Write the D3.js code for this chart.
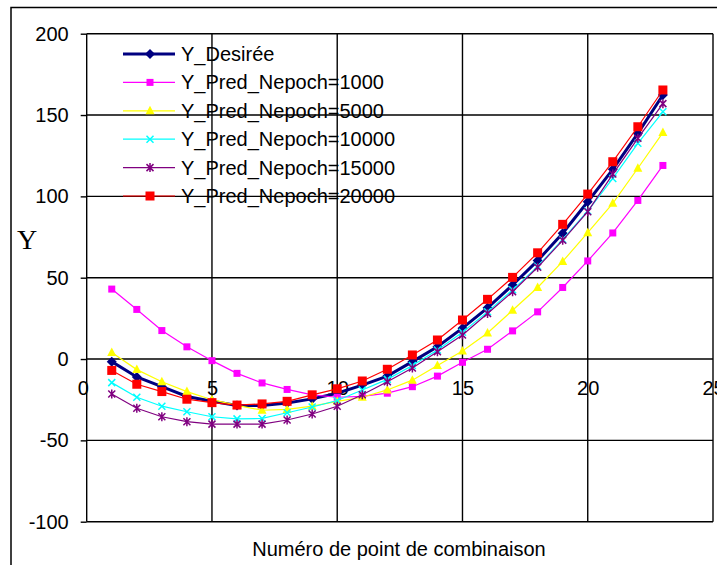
<!DOCTYPE html>
<html><head><meta charset="utf-8">
<script src="https://cdn.jsdelivr.net/npm/d3@7/dist/d3.min.js"></script>
<style>
body{margin:0;background:#fff;}
svg{display:block;}
text{font-family:"Liberation Sans",Arial,sans-serif;fill:#000;}
</style>
</head><body>
<svg id="chart" width="717" height="565"></svg>
<script>
// ---- data ----
const xPoints = [1,2,3,4,5,6,7,8,9,10,11,12,13,14,15,16,17,18,19,20,21,22,23];
const yDesiree   = [-1.6,-11,-17,-23,-26,-28.5,-28.5,-27,-24.5,-21,-16,-10.5,-1.6,7.6,19,31.5,45.5,60.5,77.3,96.7,116.6,138.7,162.3];
const yPred1000  = [43,30.5,17.5,7.5,-1,-8.8,-14.7,-18.7,-22,-23.5,-23,-21,-17,-10.5,-2,6,17.3,29,44,60.3,77.5,97.5,119];
const yPred5000  = [4,-6.5,-14,-20,-25,-28.5,-31.5,-31,-29,-26,-23.5,-19,-13,-4,5,16,30,44,60,77.7,95.7,117.3,139.2];
const yPred10000 = [-14.5,-23.5,-29,-32.4,-35.5,-36.8,-36.5,-33,-29.5,-25.5,-19,-12.5,-4,5.5,16.5,29,42.5,57,73.5,91,111,132.6,152];
const yPred15000 = [-21.5,-30.3,-35.5,-38.5,-40,-40,-40,-37.5,-33.8,-29,-22,-14,-5.5,4.5,14.8,28,41.4,56.4,73,90.6,113.7,135.7,157];
const yPred20000 = [-7,-15.5,-20,-24.7,-26.8,-28.3,-27.6,-26,-22,-18.3,-13.5,-6.3,2.5,11.7,24,36.7,50.2,65.3,82.8,101.4,121.3,142.8,165.4];
const seriesNames = ["Y_Desirée","Y_Pred_Nepoch=1000","Y_Pred_Nepoch=5000","Y_Pred_Nepoch=10000","Y_Pred_Nepoch=15000","Y_Pred_Nepoch=20000"];
const seriesColors = ["#000080","#FF00FF","#FFFF00","#00FFFF","#800080","#FF0000"];
const seriesMarkers = ["diamond","square","triangle","cross","star","bigsquare"];
const xTicks = [0,5,10,15,20,25];
const yTicks = [-100,-50,0,50,100,150,200];
const xTitle = "Numéro de point de combinaison";
const yTitle = "Y";

const seriesValues = [yDesiree,yPred1000,yPred5000,yPred10000,yPred15000,yPred20000];
const series = seriesNames.map((n,i)=>({name:n,color:seriesColors[i],marker:seriesMarkers[i],
  values:xPoints.map((x,j)=>({x:x,y:seriesValues[i][j]}))}));

// ---- layout ----
const svg = d3.select("#chart");
const x = d3.scaleLinear().domain([0,25]).range([86.7,713]);
const y = d3.scaleLinear().domain([-100,200]).range([521.7,33.7]);
const fmt = d => String(d);

// outer frame
svg.append("rect").attr("x",11).attr("y",7.5).attr("width",800).attr("height",700)
  .attr("fill","#fff").attr("stroke","#000").attr("stroke-width",1.5);

// gridlines
const grid = svg.append("g").attr("stroke","#000").attr("stroke-width",1.4);
grid.selectAll("line.h").data(yTicks).join("line").attr("class","h")
  .attr("x1",x(0)).attr("x2",x(25)).attr("y1",d=>y(d)).attr("y2",d=>y(d));
grid.selectAll("line.v").data(xTicks).join("line").attr("class","v")
  .attr("y1",y(-100)).attr("y2",y(200)).attr("x1",d=>x(d)).attr("x2",d=>x(d));

// y axis
const yAxis = svg.append("g").attr("transform",`translate(${x(0)},0)`)
  .call(d3.axisLeft(y).tickValues(yTicks).tickSize(6).tickPadding(12).tickFormat(fmt));
yAxis.select(".domain").remove();
yAxis.selectAll(".tick line").attr("stroke","#000").attr("stroke-width",1.4);
yAxis.selectAll("text").attr("font-size",20).attr("font-family","Liberation Sans, Arial, sans-serif");

// x axis at y=0
const xAxis = svg.append("g").attr("transform",`translate(0,${y(0)})`)
  .call(d3.axisBottom(x).tickValues(xTicks).tickSize(0).tickPadding(22).tickFormat(fmt));
xAxis.select(".domain").remove();
xAxis.selectAll("text").attr("font-size",20).attr("font-family","Liberation Sans, Arial, sans-serif")
  .attr("dx", (d,i)=> i===0 ? -4 : 0);

// titles
svg.append("text").attr("x",399).attr("y",556).attr("text-anchor","middle")
  .attr("font-size",20).text(xTitle);
svg.append("text").attr("x",27).attr("y",249).attr("text-anchor","middle")
  .style("font-family","'Liberation Serif','Times New Roman',serif").attr("font-size",28).text(yTitle);

// marker drawing
function drawMarker(g, type, color, cx, cy){
  if(type==="diamond"){
    g.append("path").attr("d",`M${cx},${cy-5}L${cx+5},${cy}L${cx},${cy+5}L${cx-5},${cy}Z`).attr("fill",color);
  } else if(type==="square"){
    g.append("rect").attr("x",cx-3.5).attr("y",cy-3.5).attr("width",7).attr("height",7).attr("fill",color);
  } else if(type==="bigsquare"){
    g.append("rect").attr("x",cx-4.5).attr("y",cy-4.5).attr("width",9).attr("height",9).attr("fill",color);
  } else if(type==="triangle"){
    g.append("path").attr("d",`M${cx},${cy-5}L${cx+4.5},${cy+3.5}L${cx-4.5},${cy+3.5}Z`).attr("fill",color);
  } else if(type==="cross"){
    g.append("path").attr("d",`M${cx-3.5},${cy-3.5}L${cx+3.5},${cy+3.5}M${cx-3.5},${cy+3.5}L${cx+3.5},${cy-3.5}`)
      .attr("stroke",color).attr("stroke-width",1.5).attr("fill","none");
  } else if(type==="star"){
    g.append("path").attr("d",`M${cx-3.5},${cy-3.5}L${cx+3.5},${cy+3.5}M${cx-3.5},${cy+3.5}L${cx+3.5},${cy-3.5}M${cx},${cy-4.5}L${cx},${cy+4.5}`)
      .attr("stroke",color).attr("stroke-width",1.5).attr("fill","none");
  }
}

// series
const line = d3.line().x(d=>x(d.x)).y(d=>y(d.y));
series.forEach((s,i)=>{
  const g = svg.append("g");
  g.append("path").datum(s.values).attr("d",line).attr("fill","none")
    .attr("stroke",s.color).attr("stroke-width", i===0 ? 3 : 1.2);
  s.values.forEach(d=>drawMarker(g, s.marker, s.color, x(d.x), y(d.y)));
});

// legend
const legend = svg.append("g");
series.forEach((s,i)=>{
  const ly = 54 + i*28.4;
  const g = legend.append("g");
  g.append("line").attr("x1",123).attr("x2",175).attr("y1",ly).attr("y2",ly)
    .attr("stroke",s.color).attr("stroke-width", i===0 ? 3 : 1.2);
  drawMarker(g, s.marker, s.color, 150, ly);
  g.append("text").attr("x",181).attr("y",ly+7).attr("font-size",20).text(s.name);
});
</script>
</body></html>
